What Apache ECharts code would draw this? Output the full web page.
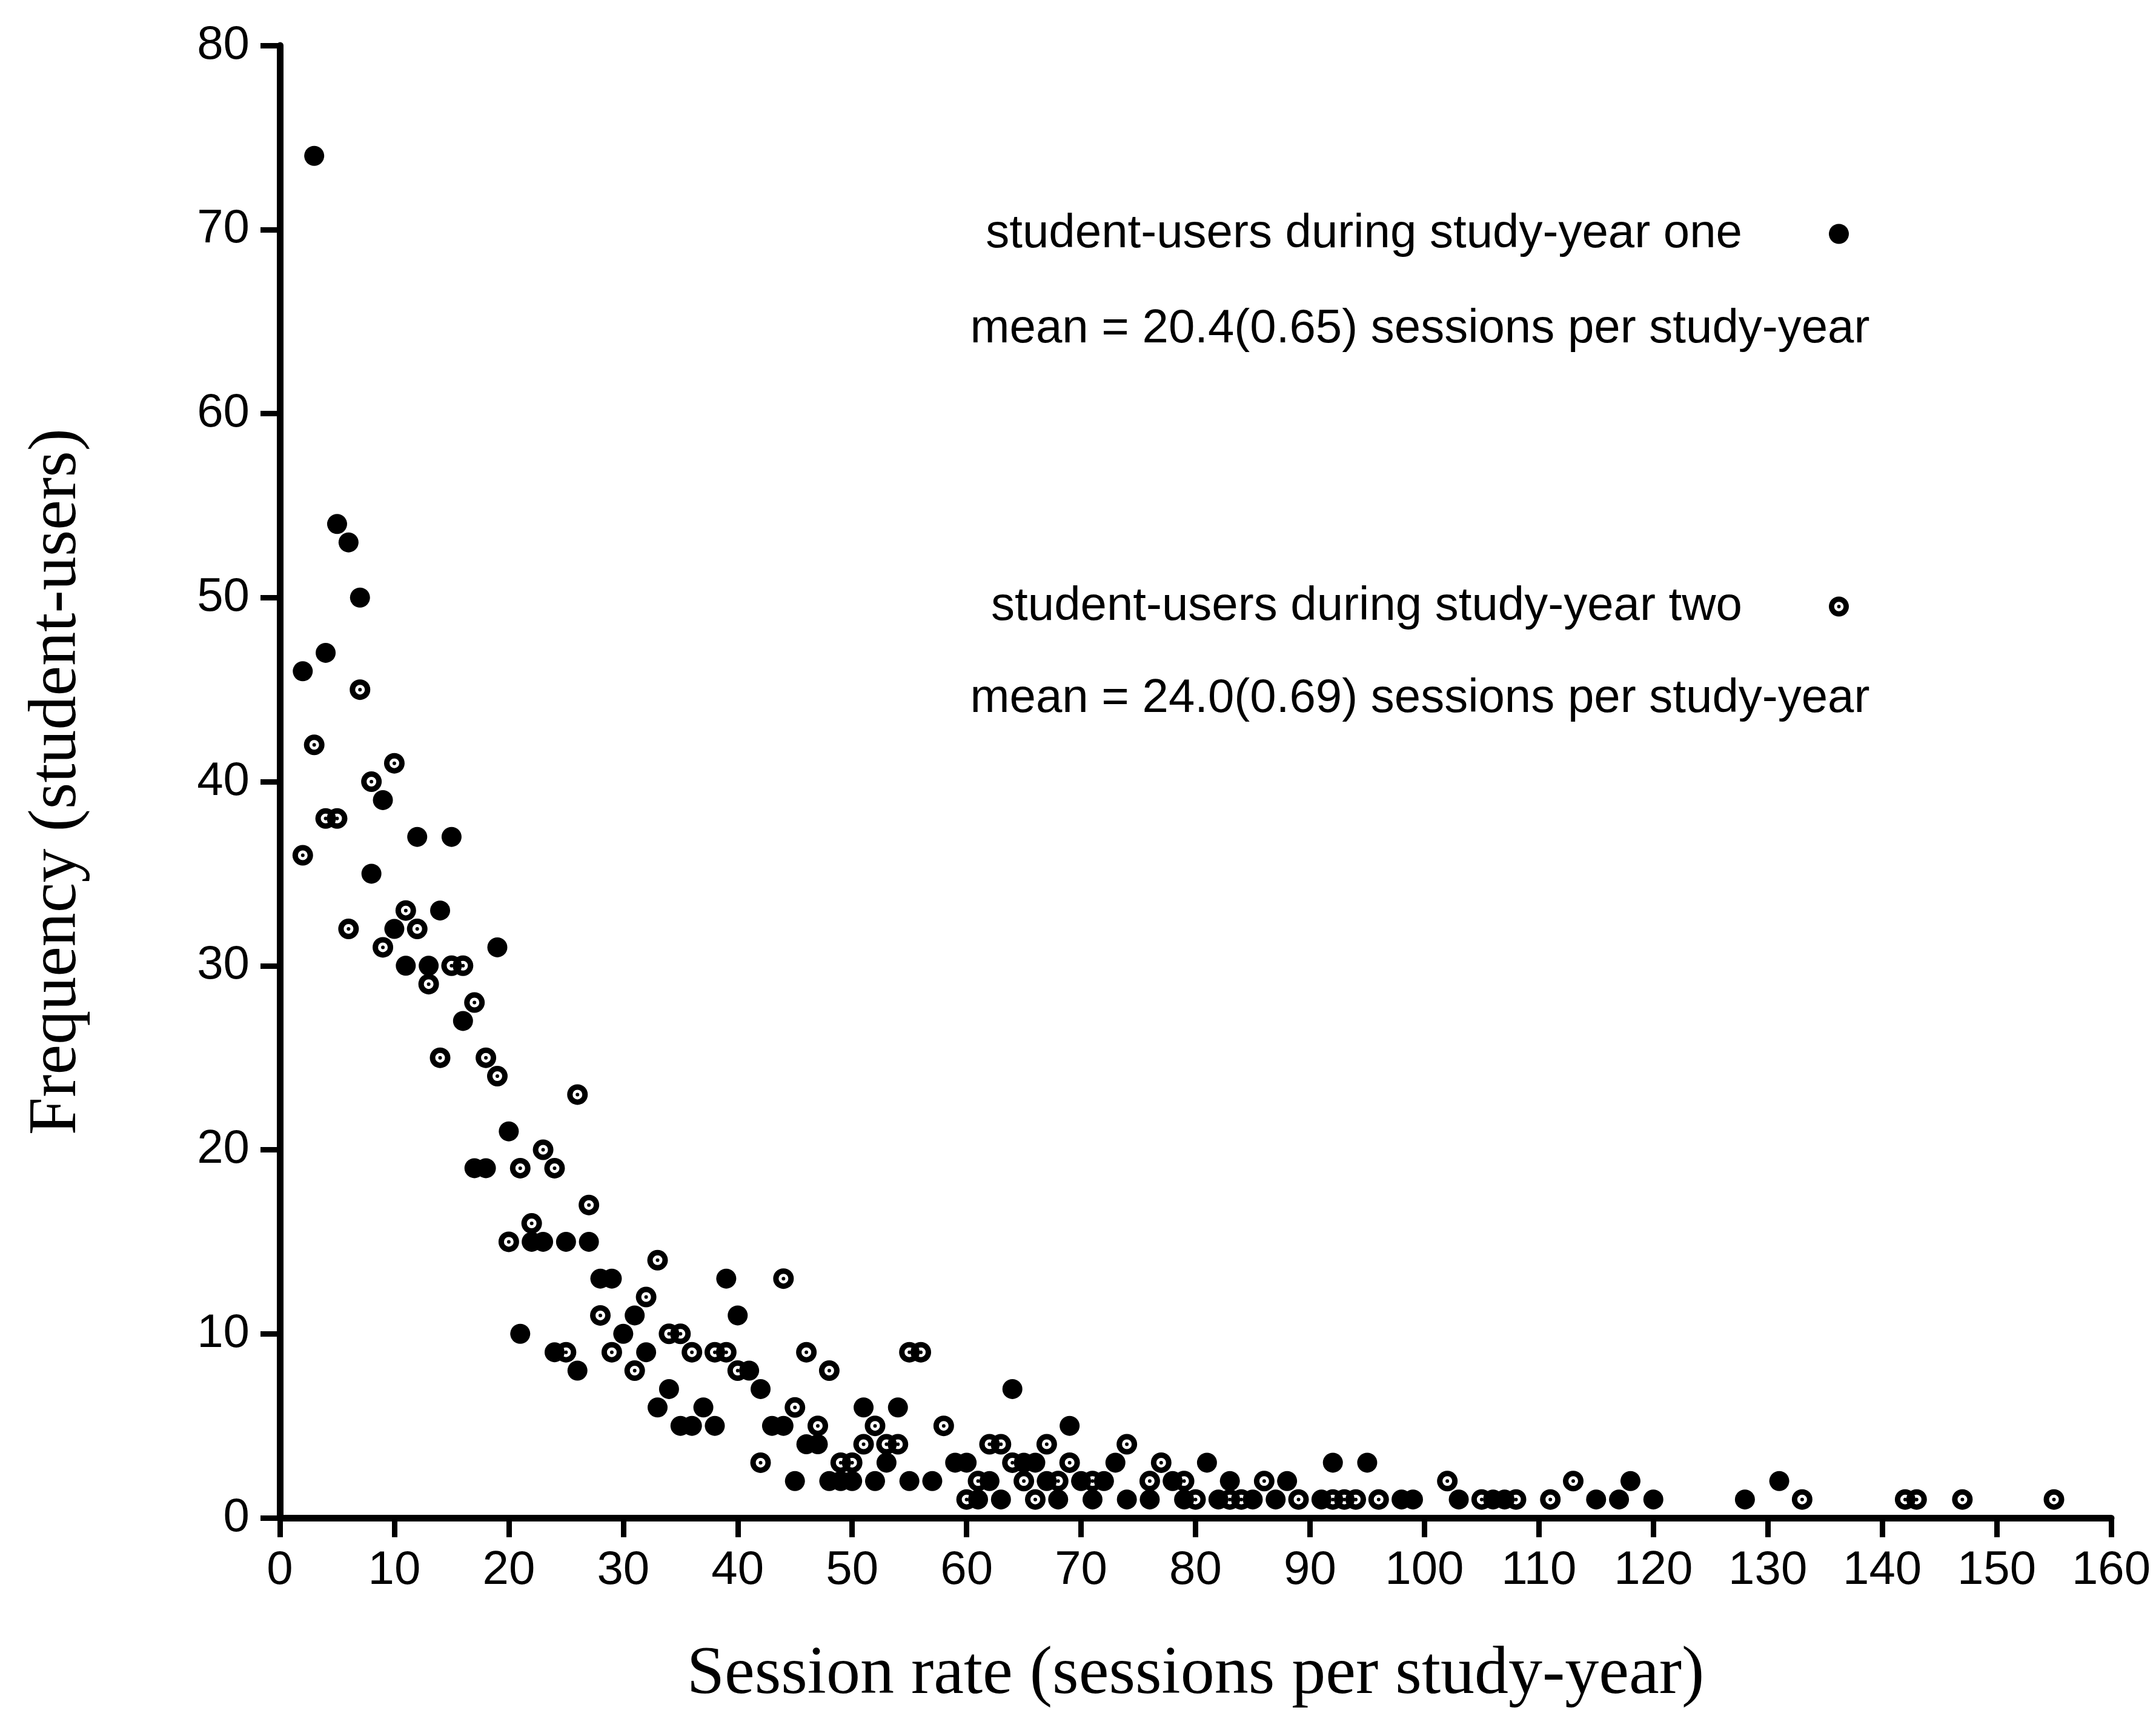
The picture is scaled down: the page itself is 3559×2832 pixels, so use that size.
<!DOCTYPE html>
<html>
<head>
<meta charset="utf-8">
<title>Session rate frequency</title>
<script src="https://cdn.jsdelivr.net/npm/echarts@6/dist/echarts.min.js"></script>
<style>
  html, body { margin: 0; padding: 0; background: #fff; }
  #chart { width: 3559px; height: 2832px; }
</style>
</head>
<body>
<div id="chart"></div>
<script>
// session rate (sessions per study-year) and frequency, study-year one (filled dots)
var yearOneRate = [2, 3, 4, 5, 6, 7, 8, 9, 10, 11, 12, 13, 14, 15, 16, 17, 18, 19, 20, 21,
  22, 23, 24, 25, 26, 27, 28, 29, 30, 31, 32, 33, 34, 35, 36, 37, 38, 39, 40, 41,
  42, 43, 44, 45, 46, 47, 48, 49, 50, 51, 52, 53, 54, 55, 57, 59, 60, 61, 62, 63,
  64, 65, 66, 67, 68, 69, 70, 71, 72, 73, 74, 76, 78, 79, 81, 82, 83, 85, 87, 88,
  91, 92, 95, 98, 99, 103, 106, 107, 115, 117, 118, 120, 128, 131];
var yearOneFreq = [46, 74, 47, 54, 53, 50, 35, 39, 32, 30, 37, 30, 33, 37, 27, 19, 19, 31, 21, 10,
  15, 15, 9, 15, 8, 15, 13, 13, 10, 11, 9, 6, 7, 5, 5, 6, 5, 13, 11, 8,
  7, 5, 5, 2, 4, 4, 2, 2, 2, 6, 2, 3, 6, 2, 2, 3, 3, 1, 2, 1,
  7, 3, 3, 2, 1, 5, 2, 1, 2, 3, 1, 1, 2, 1, 3, 1, 2, 1, 1, 2,
  1, 3, 3, 1, 1, 1, 1, 1, 1, 1, 2, 1, 1, 2];

// study-year two (circled dots)
var yearTwoRate = [2, 3, 4, 5, 6, 7, 8, 9, 10, 11, 12, 13, 14, 15, 16, 17, 18, 19, 20, 21,
  22, 23, 24, 25, 26, 27, 28, 29, 31, 32, 33, 34, 35, 36, 38, 39, 40, 42, 44, 45,
  46, 47, 48, 49, 50, 51, 52, 53, 54, 55, 56, 58, 60, 61, 62, 63, 64, 65, 66, 67,
  68, 69, 71, 74, 76, 77, 79, 80, 83, 84, 86, 89, 92, 93, 94, 96, 102, 105, 108, 111,
  113, 133, 142, 143, 147, 155];
var yearTwoFreq = [36, 42, 38, 38, 32, 45, 40, 31, 41, 33, 32, 29, 25, 30, 30, 28, 25, 24, 15, 19,
  16, 20, 19, 9, 23, 17, 11, 9, 8, 12, 14, 10, 10, 9, 9, 9, 8, 3, 13, 6,
  9, 5, 8, 3, 3, 4, 5, 4, 4, 9, 9, 5, 1, 2, 4, 4, 3, 2, 1, 4,
  2, 3, 2, 4, 2, 3, 2, 1, 1, 1, 2, 1, 1, 1, 1, 1, 2, 1, 1, 1,
  2, 1, 1, 1, 1, 1];

var seriesNames = ['student-users during study-year one', 'student-users during study-year two'];
var meanLines = ['mean = 20.4(0.65) sessions per study-year', 'mean = 24.0(0.69) sessions per study-year'];

function pairs(xs, ys) {
  return xs.map(function (x, i) { return [x, ys[i]]; });
}

var sans = '"Liberation Sans", Arial, Helvetica, sans-serif';
var serif = '"Liberation Serif", "Times New Roman", serif';

// ring with a dot in the middle (inner circle wound the other way = hole)
var circledDot = 'path://M0,-17A17,17 0 1,1 0,17A17,17 0 1,1 0,-17Z' +
  'M0,-8A8,8 0 1,0 0,8A8,8 0 1,0 0,-8Z' +
  'M0,-3A3,3 0 1,1 0,3A3,3 0 1,1 0,-3Z';

var chart = echarts.init(document.getElementById('chart'));

var axisCommon = {
  type: 'value',
  splitLine: { show: false },
  axisLine: { show: true, lineStyle: { color: '#000', width: 11 } },
  axisTick: { show: true, length: 32, lineStyle: { color: '#000', width: 9 } },
  axisLabel: { color: '#000', fontSize: 78, fontFamily: sans, margin: 48 },
  nameLocation: 'middle',
  nameTextStyle: { color: '#000', fontSize: 112, fontFamily: serif }
};

var legendCommon = {
  orient: 'vertical',
  align: 'right',
  right: 507,
  padding: 0,
  itemWidth: 33,
  itemHeight: 33,
  textStyle: { color: '#000', fontSize: 78, fontFamily: sans, lineHeight: 80, padding: [0, 138, 0, 0] }
};

var option = {
  backgroundColor: '#fff',
  animation: false,
  grid: { left: 462, right: 74, top: 75, bottom: 327, containLabel: false },
  xAxis: Object.assign({}, axisCommon, {
    min: 0, max: 160, interval: 10,
    name: 'Session rate (sessions per study-year)',
    nameGap: 204
  }),
  yAxis: Object.assign({}, axisCommon, {
    min: 0, max: 80, interval: 10,
    name: 'Frequency (student-users)',
    nameGap: 311,
    axisLabel: Object.assign({}, axisCommon.axisLabel, { margin: 50 })
  }),
  legend: [
    Object.assign({}, legendCommon, { data: [seriesNames[0]], top: 346 }),
    Object.assign({}, legendCommon, { data: [seriesNames[1]], top: 961 })
  ],
  graphic: [
    {
      type: 'text',
      style: { text: meanLines[0], x: 2344, y: 543, font: '78px ' + sans, fill: '#000', align: 'center', verticalAlign: 'middle' }
    },
    {
      type: 'text',
      style: { text: meanLines[1], x: 2344, y: 1153, font: '78px ' + sans, fill: '#000', align: 'center', verticalAlign: 'middle' }
    }
  ],
  series: [
    {
      name: seriesNames[0],
      type: 'scatter',
      symbol: 'circle',
      symbolSize: 33,
      itemStyle: { color: '#000', opacity: 1 },
      data: pairs(yearOneRate, yearOneFreq)
    },
    {
      name: seriesNames[1],
      type: 'scatter',
      symbol: circledDot,
      symbolSize: 34,
      itemStyle: { color: '#000', opacity: 1 },
      data: pairs(yearTwoRate, yearTwoFreq)
    }
  ]
};

chart.setOption(option);
</script>
</body>
</html>
